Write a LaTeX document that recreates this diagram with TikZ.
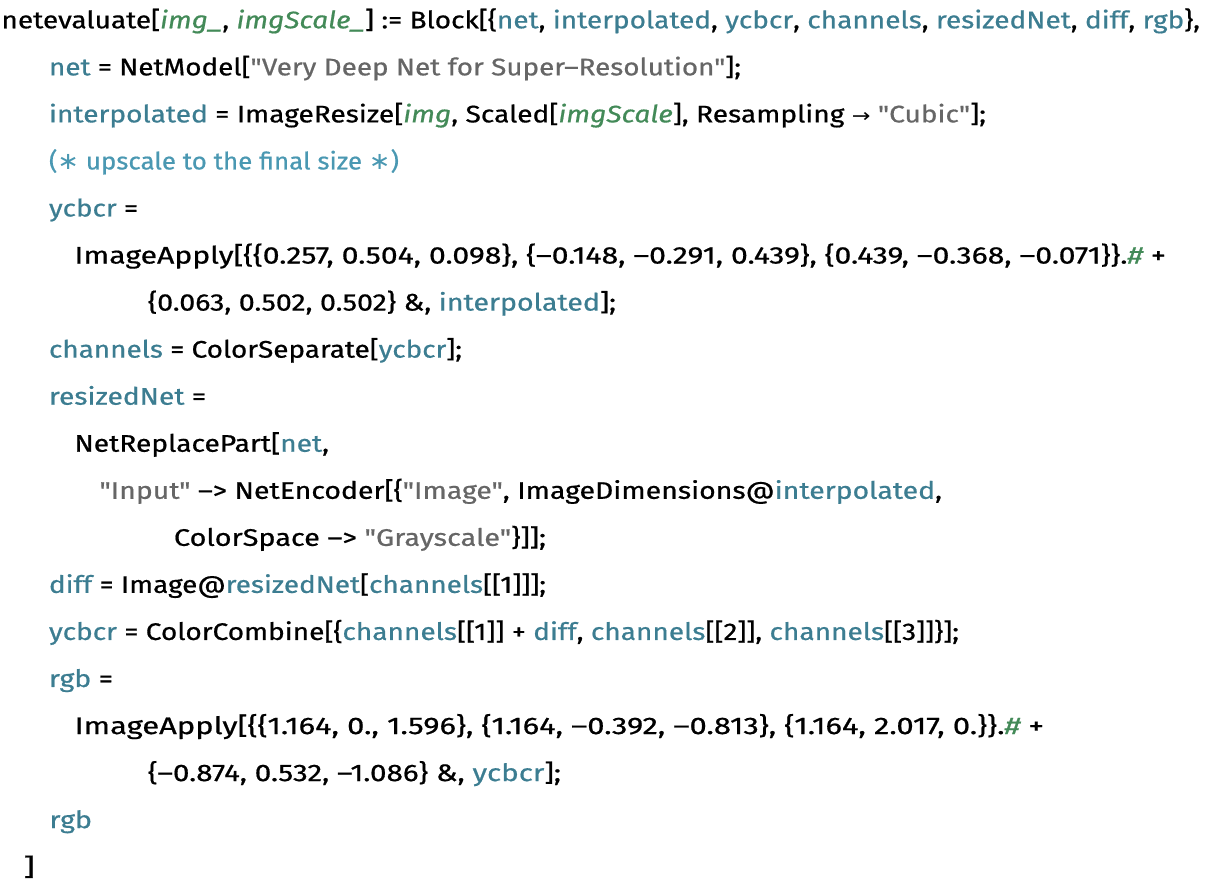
\documentclass[tikz,border=0pt]{standalone}
\usepackage{fontspec}
\usepackage{graphicx}
\newfontfamily\codefam{Fira Sans}[FakeBold=0.6]
\newfontfamily\symfont{DejaVu Sans}
\definecolor{varblue}{HTML}{3C7D91}
\definecolor{patgreen}{HTML}{438A58}
\definecolor{strgray}{HTML}{666666}
\definecolor{cmtblue}{HTML}{4A98B2}
\newcommand\Vb[1]{\textcolor{varblue}{#1}}
\newcommand\Pg[1]{\textcolor{patgreen}{\itshape #1}}
\newcommand\St[1]{\textcolor{strgray}{#1}}
\newcommand\Cm[1]{\textcolor{cmtblue}{#1}}
\newcommand\codefont{\codefam\fontsize{24}{28}\selectfont}
\newcommand\rarrow{{\symfont\fontsize{19}{28}\selectfont →}}
\newcommand\casterisk{{\symfont ∗}}
\newsavebox\linebox
\tikzset{codeline/.style={anchor=base west, inner sep=0pt, outer sep=0pt, text=black}}
% #1 name, #2 left x, #3 baseline y, #4 right end x, #5 text
\newcommand\CodeLine[5]{%
  \node[codeline] (#1) at (#2,#3) {\sbox\linebox{\codefont #5}%
    \pgfmathsetmacro\hsc{(#4-#2)/\the\wd\linebox}%
    \scalebox{\hsc}[1]{\usebox\linebox}};}
\begin{document}
\begin{tikzpicture}[x=1pt,y=1pt]
\useasboundingbox (0,0) rectangle (1210,884);
\CodeLine{l1}{1.5}{855.7}{1200}{netevaluate[\Pg{img\_}, \Pg{imgScale\_}] := Block[\{\Vb{net}, \Vb{interpolated}, \Vb{ycbcr}, \Vb{channels}, \Vb{resizedNet}, \Vb{diff}, \Vb{rgb}\},}
\CodeLine{l2}{49}{808.65}{741}{\Vb{net} = NetModel[\St{"Very Deep Net for Super–Resolution"}];}
\CodeLine{l3}{49}{761.6}{986}{\Vb{interpolated} = ImageResize[\Pg{img}, Scaled[\Pg{imgScale}], Resampling \rarrow{} \St{"Cubic"}];}
\CodeLine{l4}{49}{714.55}{399}{\Cm{(\casterisk{} upscale to the final size \casterisk)}}
\CodeLine{l5}{49}{667.5}{138}{\Vb{ycbcr} =}
\CodeLine{l6}{74.5}{620.45}{1166}{ImageApply[\{\{0.257, 0.504, 0.098\}, \{–0.148, –0.291, 0.439\}, \{0.439, –0.368, –0.071\}\}.\Pg{\#} +}
\CodeLine{l7}{148}{573.4}{616}{\{0.063, 0.502, 0.502\} \&, \Vb{interpolated}];}
\CodeLine{l8}{49}{526.35}{462}{\Vb{channels} = ColorSeparate[\Vb{ycbcr}];}
\CodeLine{l9}{49}{479.3}{206}{\Vb{resizedNet} =}
\CodeLine{l10}{74.5}{432.25}{329}{NetReplacePart[\Vb{net},}
\CodeLine{l11}{99.5}{385.2}{942}{\St{"Input"} –> NetEncoder[\{\St{"Image"}, ImageDimensions@\Vb{interpolated},}
\CodeLine{l12}{174}{338.15}{546}{ColorSpace –> \St{"Grayscale"}\}]];}
\CodeLine{l13}{49}{291.1}{546}{\Vb{diff} = Image@\Vb{resizedNet}[\Vb{channels}[[1]]];}
\CodeLine{l14}{49}{244.05}{959}{\Vb{ycbcr} = ColorCombine[\{\Vb{channels}[[1]] + \Vb{diff}, \Vb{channels}[[2]], \Vb{channels}[[3]]\}];}
\CodeLine{l15}{49}{197.0}{113}{\Vb{rgb} =}
\CodeLine{l16}{74.5}{149.95}{1044}{ImageApply[\{\{1.164, 0., 1.596\}, \{1.164, –0.392, –0.813\}, \{1.164, 2.017, 0.\}\}.\Pg{\#} +}
\CodeLine{l17}{148}{102.9}{561}{\{–0.874, 0.532, –1.086\} \&, \Vb{ycbcr}];}
\CodeLine{l18}{49.5}{55.85}{92}{\Vb{rgb}}
\CodeLine{l19}{23.5}{8.8}{35}{]}
\end{tikzpicture}
\end{document}
